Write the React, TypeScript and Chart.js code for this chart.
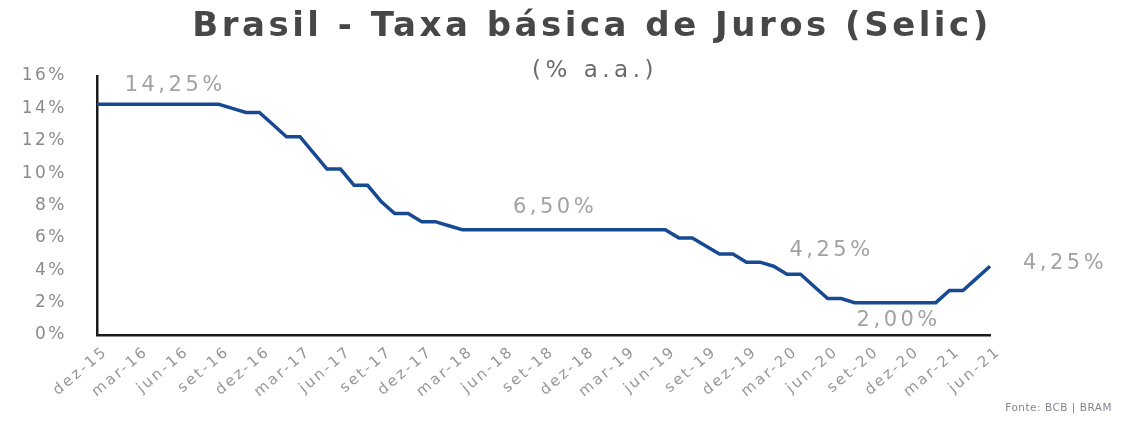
import React, { useEffect, useRef } from 'react';
import { Chart, registerables } from 'chart.js';

Chart.register(...registerables);

const TITLE = 'Brasil - Taxa básica de Juros (Selic)';
const SUBTITLE = '(% a.a.)';
const SOURCE = 'Fonte: BCB | BRAM';

// Monthly categories (every 3rd one is shown as a tick label)
const months = [
  'dez-15', 'jan-16', 'fev-16', 'mar-16', 'abr-16', 'mai-16', 'jun-16', 'jul-16', 'ago-16', 'set-16', 'out-16', 'nov-16',
  'dez-16', 'jan-17', 'fev-17', 'mar-17', 'abr-17', 'mai-17', 'jun-17', 'jul-17', 'ago-17', 'set-17', 'out-17', 'nov-17',
  'dez-17', 'jan-18', 'fev-18', 'mar-18', 'abr-18', 'mai-18', 'jun-18', 'jul-18', 'ago-18', 'set-18', 'out-18', 'nov-18',
  'dez-18', 'jan-19', 'fev-19', 'mar-19', 'abr-19', 'mai-19', 'jun-19', 'jul-19', 'ago-19', 'set-19', 'out-19', 'nov-19',
  'dez-19', 'jan-20', 'fev-20', 'mar-20', 'abr-20', 'mai-20', 'jun-20', 'jul-20', 'ago-20', 'set-20', 'out-20', 'nov-20',
  'dez-20', 'jan-21', 'fev-21', 'mar-21', 'abr-21', 'mai-21', 'jun-21',
];

// Selic rate (% a.a.), end of month
const selic = [
  14.25, 14.25, 14.25, 14.25, 14.25, 14.25, 14.25, 14.25, 14.25, 14.25, 14.0, 13.75,
  13.75, 13.0, 12.25, 12.25, 11.25, 10.25, 10.25, 9.25, 9.25, 8.25, 7.5, 7.5,
  7.0, 7.0, 6.75, 6.5, 6.5, 6.5, 6.5, 6.5, 6.5, 6.5, 6.5, 6.5,
  6.5, 6.5, 6.5, 6.5, 6.5, 6.5, 6.5, 6.0, 6.0, 5.5, 5.0, 5.0,
  4.5, 4.5, 4.25, 3.75, 3.75, 3.0, 2.25, 2.25, 2.0, 2.0, 2.0, 2.0,
  2.0, 2.0, 2.0, 2.75, 2.75, 3.5, 4.25,
];

// Y axis ticks
const yTicks = [0, 2, 4, 6, 8, 10, 12, 14, 16];

// Value annotations: which data point, and the label text
const annIndex = [6, 34, 50, 56, 66];
const annText = ['14,25%', '6,50%', '4,25%', '2,00%', '4,25%'];
const annOffsetX = [-3, -2, 58, 44, 75];
const annOffsetY = [-19, -22, -16, 18, -3];

const textPlugin = {
  id: 'selicTexts',
  beforeDraw(chart: any) {
    chart.ctx.letterSpacing = '2.5px';
  },
  afterDraw(chart: any) {
    const ctx = chart.ctx;
    const xs = chart.scales.x;
    const ys = chart.scales.y;
    ctx.save();
    // Title
    ctx.textAlign = 'center';
    ctx.textBaseline = 'alphabetic';
    ctx.fillStyle = '#474747';
    ctx.letterSpacing = '3.5px';
    ctx.font = 'bold 34px "DejaVu Sans"';
    ctx.fillText(TITLE, 592, 36);
    // Subtitle
    ctx.fillStyle = '#6a6a6a';
    ctx.letterSpacing = '4.5px';
    ctx.font = '23px "DejaVu Sans"';
    ctx.fillText(SUBTITLE, 595, 77);
    // Annotations
    ctx.fillStyle = '#a2a2a2';
    ctx.letterSpacing = '3.5px';
    ctx.font = '21px "DejaVu Sans"';
    ctx.textBaseline = 'middle';
    annIndex.forEach((idx, i) => {
      const px = xs.getPixelForValue(idx);
      const py = ys.getPixelForValue(selic[idx]);
      ctx.fillText(annText[i], px + annOffsetX[i], py + annOffsetY[i]);
    });
    // Source
    ctx.textAlign = 'right';
    ctx.fillStyle = '#8a8090';
    ctx.letterSpacing = '0.5px';
    ctx.font = '10.5px "DejaVu Sans"';
    ctx.fillText(SOURCE, 1112, 408);
    ctx.restore();
    ctx.letterSpacing = '0px';
  },
};

export default function App() {
  const ref = useRef<HTMLCanvasElement | null>(null);
  useEffect(() => {
    if (!ref.current) return;
    const chart = new Chart(ref.current, {
      type: 'line',
      data: {
        labels: months,
        datasets: [
          {
            data: selic,
            borderColor: '#174a92',
            borderWidth: 3.5,
            pointRadius: 0,
            tension: 0,
            fill: false,
          },
        ],
      },
      options: {
        animation: false,
        responsive: false,
        devicePixelRatio: 1,
        layout: { padding: { top: 76, right: 132, bottom: 0, left: 0 } },
        plugins: {
          legend: { display: false },
          tooltip: { enabled: false },
          title: { display: false },
        },
        scales: {
          x: {
            type: 'category',
            offset: false,
            grid: { display: false, drawTicks: false },
            border: { display: true, color: '#1a1a1a', width: 2.5 },
            ticks: {
              autoSkip: false,
              minRotation: 40,
              maxRotation: 40,
              padding: 8,
              labelOffset: 9,
              color: '#969696',
              font: { family: '"DejaVu Sans"', size: 15 },
              callback: (_v: any, i: number) => (i % 3 === 0 ? months[i] : ''),
            },
            afterFit: (s: any) => {
              s.height = 87;
            },
          },
          y: {
            min: 0,
            max: 16,
            grid: { display: false },
            border: { display: true, color: '#1a1a1a', width: 2.5 },
            afterBuildTicks: (s: any) => {
              s.ticks = yTicks.map((v) => ({ value: v }));
            },
            ticks: {
              padding: 22,
              color: '#8a8a8a',
              font: { family: '"DejaVu Sans"', size: 17 },
              callback: (v: any) => v + '%',
            },
            afterFit: (s: any) => {
              s.width = 97;
            },
          },
        },
      },
      plugins: [textPlugin],
    });
    return () => chart.destroy();
  }, []);
  return (
    <div style={{ position: 'fixed', left: 0, top: 0, width: 1122, height: 422, background: '#fff' }}>
      <canvas ref={ref} width={1122} height={422} style={{ display: 'block' }} />
    </div>
  );
}
